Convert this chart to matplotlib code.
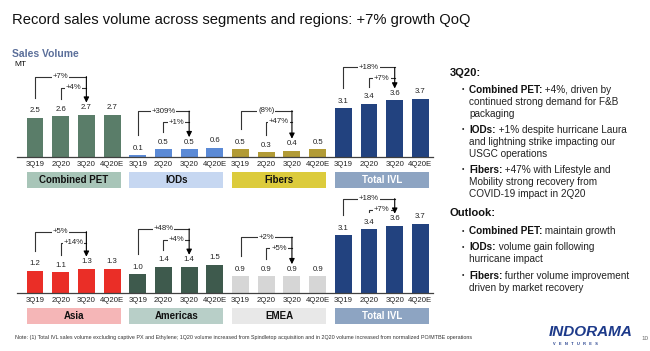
import matplotlib
matplotlib.use('Agg')
import matplotlib.pyplot as plt
from matplotlib.patches import Rectangle
from matplotlib.text import Annotation

plt.rcParams['font.family'] = ['Liberation Sans', 'DejaVu Sans']

quarters = ['3Q19', '2Q20', '3Q20', '4Q20E']

seg_names = ['Combined PET', 'IODs', 'Fibers', 'Total IVL']
combined_pet = [2.5, 2.6, 2.7, 2.7]
iods = [0.1, 0.5, 0.5, 0.6]
fibers = [0.5, 0.3, 0.4, 0.5]
total_ivl = [3.1, 3.4, 3.6, 3.7]
seg_growth = [('+7%', '+4%'), ('+309%', '+1%'), ('(8%)', '+47%'), ('+18%', '+7%')]

reg_names = ['Asia', 'Americas', 'EMEA', 'Total IVL']
asia = [1.2, 1.1, 1.3, 1.3]
americas = [1.0, 1.4, 1.4, 1.5]
emea = [0.9, 0.9, 0.9, 0.9]
reg_growth = [('+5%', '+14%'), ('+48%', '+4%'), ('+2%', '+5%'), ('+18%', '+7%')]

W, H = 650, 351
fig = plt.figure(figsize=(W / 100, H / 100), dpi=100)

LC = '#333333'


def px_axes(left, top, right, bottom):
    # axes placed by pixel box (top-left origin)
    return fig.add_axes([left / W, (H - bottom) / H, (right - left) / W, (bottom - top) / H])


def bracket(ax, k, x0, vals, outer, inner, rise):
    p = 1.0 / k
    h = [v + 7 * p for v in vals]
    y_out = h[2] + rise * p
    y_in = y_out - 11 * p
    ax.plot([x0, x0, x0 + 2], [h[0] + 13 * p, y_out, y_out], color=LC, lw=0.8, clip_on=False)
    ax.plot([x0 + 1, x0 + 1, x0 + 2], [h[1] + 10 * p, y_in, y_in], color=LC, lw=0.8, clip_on=False)
    ax.annotate('', xy=(x0 + 2, h[2] + 5 * p), xytext=(x0 + 2, y_out),
                arrowprops=dict(arrowstyle='-|>', color='black', lw=0.8,
                                shrinkA=0, shrinkB=0, mutation_scale=8),
                annotation_clip=False)
    ax.text(x0 + 1, y_out, outer, ha='center', va='center', fontsize=5.6, color='#222222',
            bbox=dict(fc='white', ec='none', pad=0.6))
    ax.text(x0 + 1.5, y_in, inner, ha='center', va='center', fontsize=5.6, color='#222222',
            bbox=dict(fc='white', ec='none', pad=0.6))


def panel(top, base, k, names, series, bar_cols, box_cols, txt_cols, growth, rises):
    ax = px_axes(17, top, 433, base)
    ax.set_xlim(-0.7, 15.49)
    ax.set_ylim(0, (base - top) / k)
    w = 0.66
    p = 1.0 / k
    for g, vals in enumerate(series):
        xs = [4 * g + j for j in range(4)]
        ax.bar(xs, vals, width=w, color=bar_cols[g], zorder=2)
        for x, v in zip(xs, vals):
            ax.text(x, v + 7 * p, f'{v:.1f}', ha='center', va='center', fontsize=5.6, color='#222222')
        ax.add_patch(Rectangle((xs[0] - w / 2, -31 * p), 3 + w, 16.5 * p,
                               color=box_cols[g], clip_on=False, lw=0))
        ax.text(4 * g + 1.5, -22.8 * p, names[g], ha='center', va='center', fontsize=7,
                fontweight='bold', color=txt_cols[g], clip_on=False)
        bracket(ax, k, xs[0], vals, growth[g][0], growth[g][1], rises[g])
    ax.set_xticks(range(16))
    ax.set_xticklabels(quarters * 4, fontsize=5.6, color='#222222')
    ax.tick_params(axis='x', length=0, pad=3)
    ax.set_yticks([])
    for s in ['top', 'left', 'right']:
        ax.spines[s].set_visible(False)
    ax.spines['bottom'].set_color('#404040')
    ax.spines['bottom'].set_linewidth(0.9)
    ax.patch.set_alpha(0)
    return ax


panel(45, 157, 15.7, seg_names, [combined_pet, iods, fibers, total_ivl],
      ['#5a7d69', '#5b8ad6', '#b29b36', '#22427f'],
      ['#a8c5b8', '#c6d7f1', '#dccb3c', '#8da4c2'],
      ['#111111', '#111111', '#111111', 'white'],
      seg_growth, [31, 31, 33, 26])

panel(190, 293, 18.7, reg_names, [asia, americas, emea, total_ivl],
      ['#ea2e27', '#3e5a4d', '#d6d6d6', '#22427f'],
      ['#f5b6b7', '#b8cfc8', '#e8e8e8', '#8da4c2'],
      ['#111111', '#111111', '#111111', 'white'],
      reg_growth, [30, 31, 32, 20])


def ft(x, y, s, **kw):
    return fig.text(x / W, 1 - y / H, s, **kw)


ft(12, 20, 'Record sales volume across segments and regions: +7% growth QoQ',
   fontsize=10.6, va='center', color='#111111')
ft(12, 54, 'Sales Volume', fontsize=7.5, fontweight='bold', va='center', color='#5b6f9a')
ft(14, 65, 'MT', fontsize=6, va='center', color='#111111')

# right-hand commentary
TS = 7.2


def bullet(y, bold, rest, more=()):
    ft(462, y, '•', fontsize=5, va='center', color='#222222')
    b = ft(469, y, bold, fontsize=TS, fontweight='bold', va='center', color='#111111')
    a = Annotation(' ' + rest, xy=(1, 0.5), xycoords=b, va='center', ha='left',
                   fontsize=TS, color='#222222')
    fig.add_artist(a)
    for i, line in enumerate(more):
        ft(469, y + 11.8 * (i + 1), line, fontsize=TS, va='center', color='#222222')


ft(450, 73, '3Q20:', fontsize=8, fontweight='bold', va='center', color='#111111')
bullet(90, 'Combined PET:', '+4%, driven by', ['continued strong demand for F&B', 'packaging'])
bullet(130, 'IODs:', '+1% despite hurricane Laura', ['and lightning strike impacting our', 'USGC operations'])
bullet(170, 'Fibers:', '+47% with Lifestyle and', ['Mobility strong recovery from', 'COVID-19 impact in 2Q20'])
ft(450, 213, 'Outlook:', fontsize=8, fontweight='bold', va='center', color='#111111')
bullet(231, 'Combined PET:', 'maintain growth')
bullet(247, 'IODs:', 'volume gain following', ['hurricane impact'])
bullet(276, 'Fibers:', 'further volume improvement', ['driven by market recovery'])

ft(15, 338, 'Note: (1) Total IVL sales volume excluding captive PX and Ethylene; 1Q20 volume increased '
   'from Spindletop acquisition and in 2Q20 volume increased from normalized PO/MTBE operations',
   fontsize=3.9, va='center', color='#333333')

ft(549, 332, 'INDORAMA', fontsize=11, fontweight='bold', fontstyle='italic', va='center', color='#1d3a8a')
ft(553, 344, 'V   E   N   T   U   R   E   S', fontsize=2.8, fontweight='bold', va='center', color='#1d3a8a')
ft(641, 338, '10', fontsize=4.5, va='center', color='#666666')

fig.savefig('out.png', dpi=100, facecolor='white')
